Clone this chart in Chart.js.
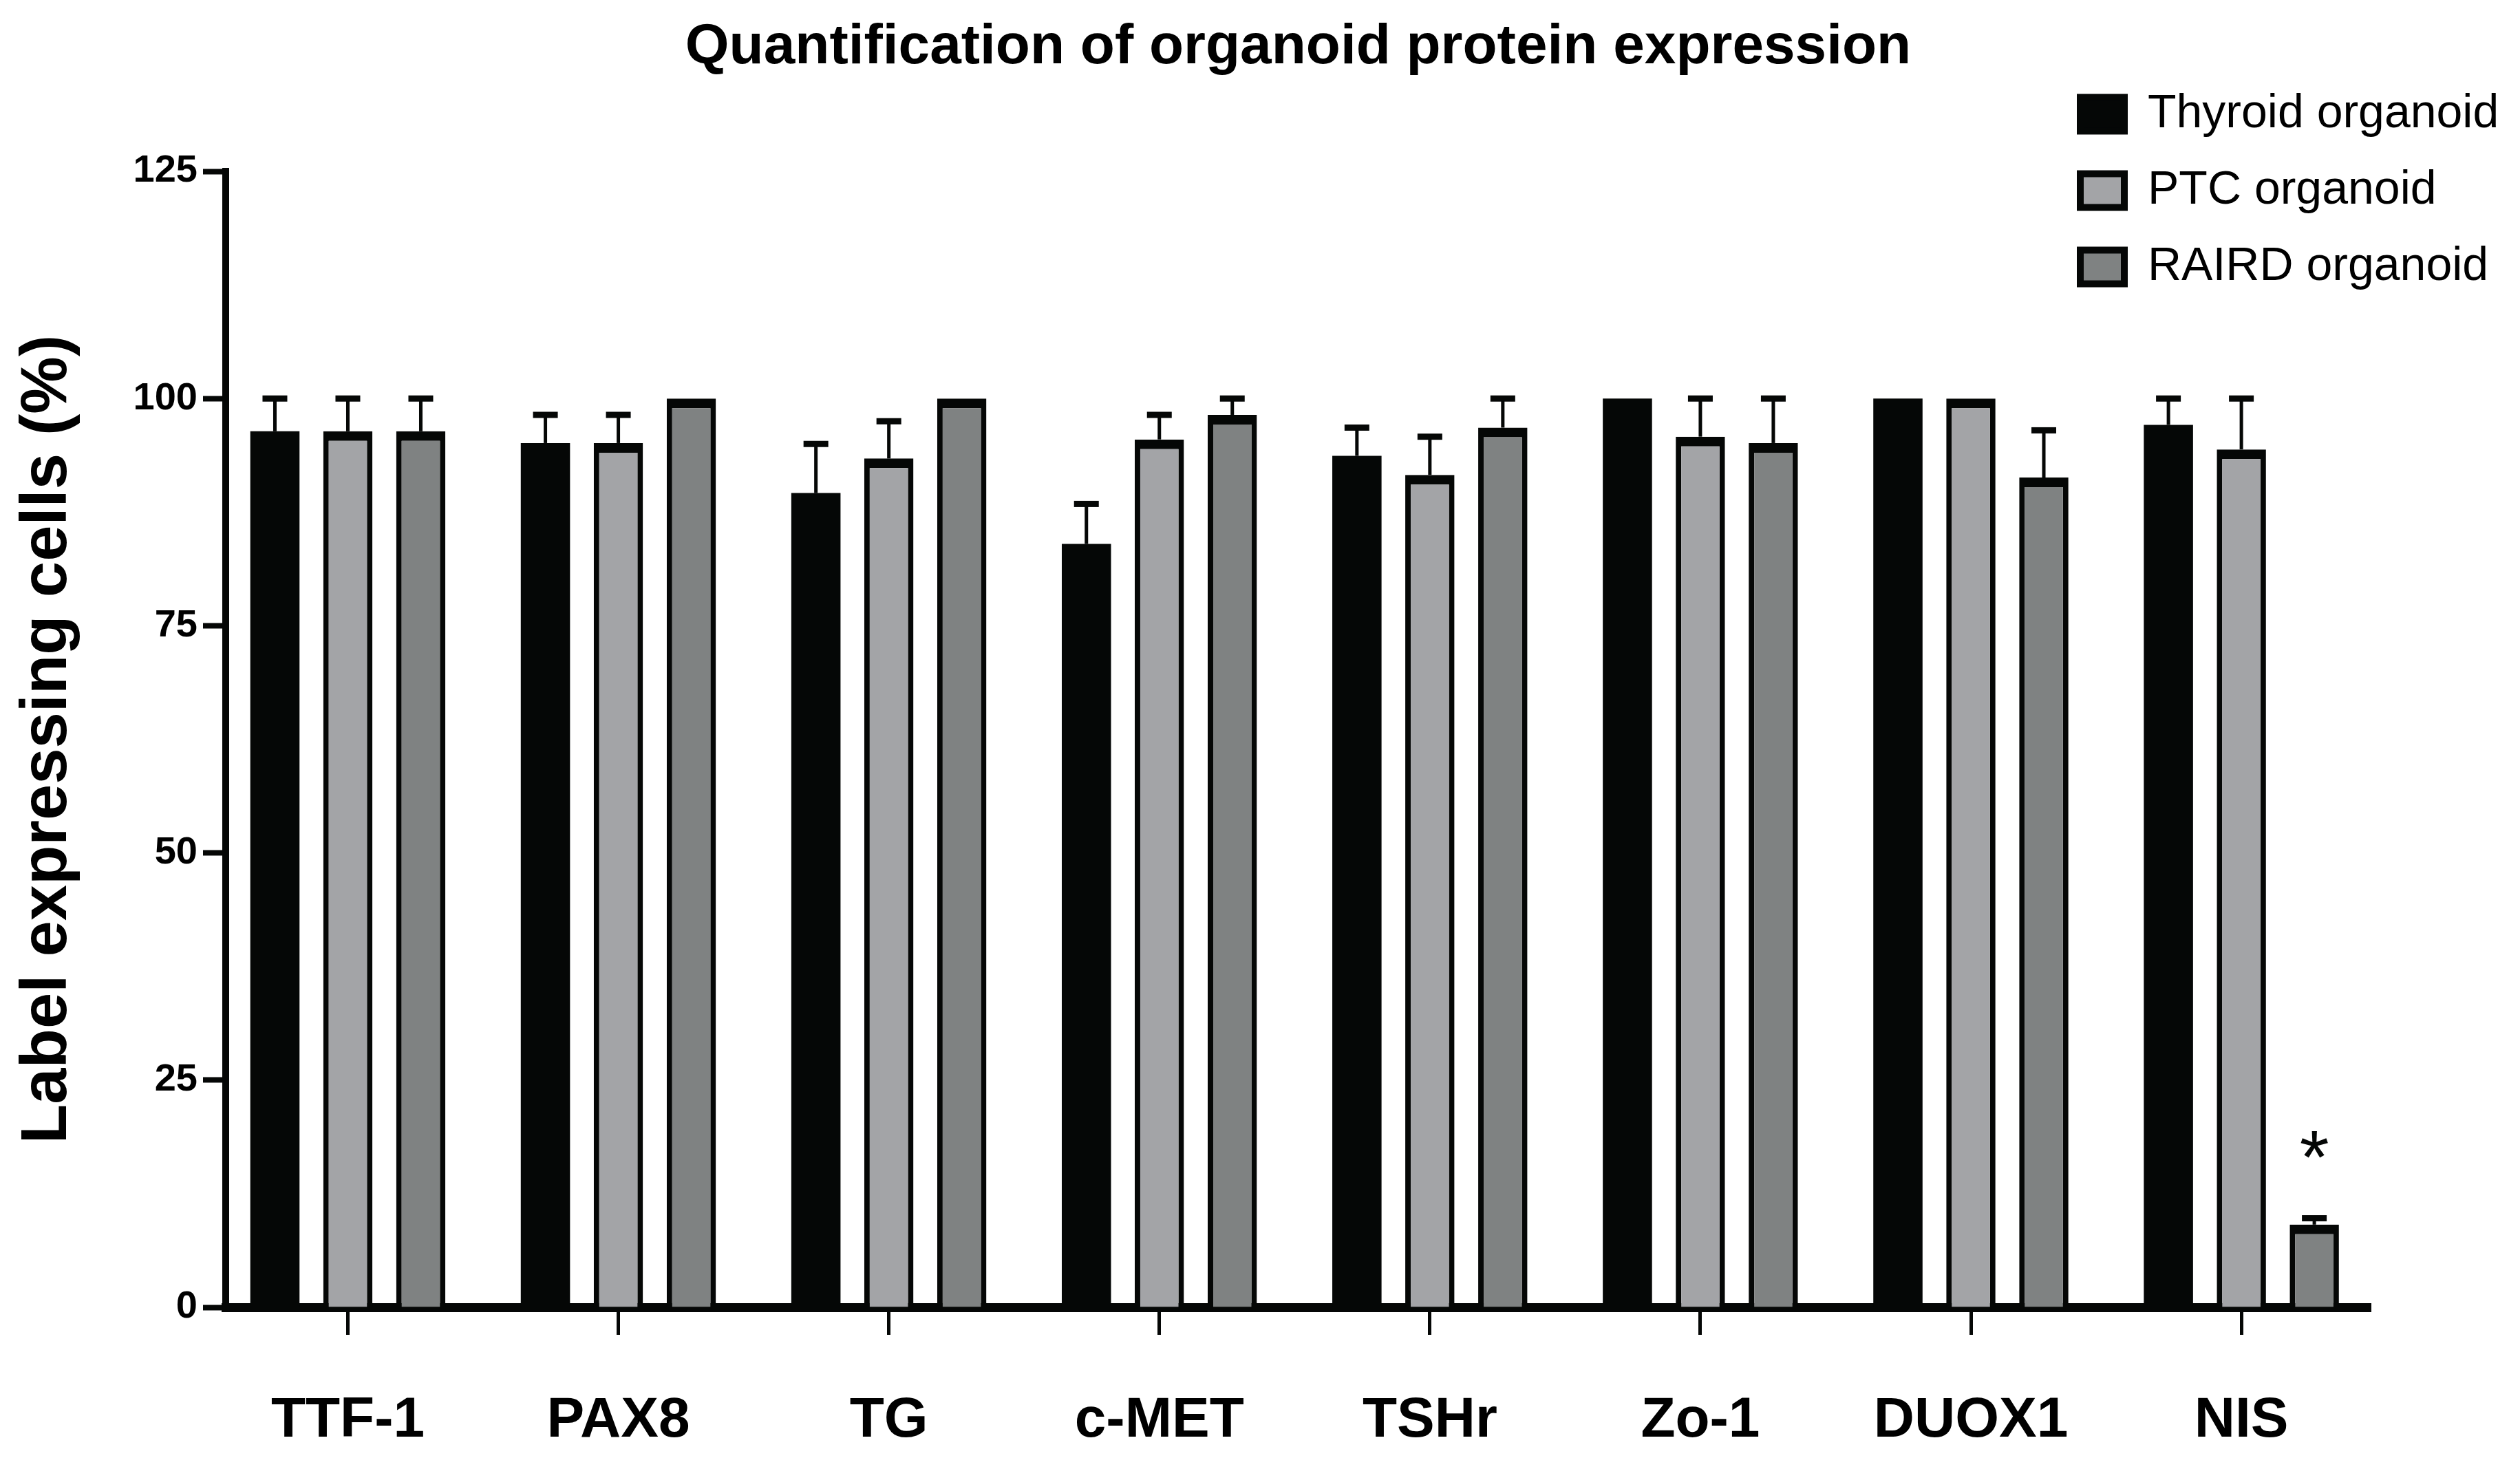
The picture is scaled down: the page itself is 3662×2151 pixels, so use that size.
<!DOCTYPE html>
<html><head><meta charset="utf-8">
<script src="https://cdn.jsdelivr.net/npm/chart.js@4.4.1/dist/chart.umd.min.js"></script>
<style>html,body{margin:0;padding:0;background:#fff;} canvas{display:block;}</style>
</head><body>
<canvas id="c" width="3662" height="2151" style="width:3662px;height:2151px"></canvas>
<script>
// ---- data ----
const categories = ['TTF-1', 'PAX8', 'TG', 'c-MET', 'TSHr', 'Zo-1', 'DUOX1', 'NIS'];
const seriesNames = ['Thyroid organoid', 'PTC organoid', 'RAIRD organoid'];
const thyroidMean = [96.4, 95.1, 89.6, 84.0, 93.7, 100, 100, 97.1];
const thyroidErr  = [3.6, 3.1, 5.4, 4.4, 3.1, 0, 0, 2.9];
const ptcMean     = [96.4, 95.1, 93.4, 95.5, 91.6, 95.8, 100, 94.4];
const ptcErr      = [3.6, 3.1, 4.1, 2.7, 4.2, 4.2, 0, 5.6];
const rairdMean   = [96.4, 100, 100, 98.2, 96.8, 95.1, 91.3, 9.1];
const rairdErr    = [3.6, 0, 0, 1.8, 3.2, 4.9, 5.2, 0.7];
const rairdMarks  = ['', '', '', '', '', '', '', '*'];
const yTicks      = [0, 25, 50, 75, 100, 125];

const SANS = '"Liberation Sans", Arial, sans-serif';
const INK = '#050706';

const toPoints = arr => arr.map((v, i) => ({ x: i, y: v }));

const errorBars = {
  id: 'errorBars',
  afterDatasetsDraw(chart) {
    const ctx = chart.ctx, ys = chart.scales.y;
    chart.data.datasets.forEach((ds, di) => {
      const meta = chart.getDatasetMeta(di);
      meta.data.forEach((el, i) => {
        const m = ds.data[i].y, e = ds.errors[i];
        const top = ys.getPixelForValue(m);
        const capY = ys.getPixelForValue(m + e);
        ctx.save();
        ctx.fillStyle = INK;
        if (e > 0) {
          ctx.fillRect(el.x - 2.5, capY, 5, top - capY);
          ctx.fillRect(el.x - 18, capY - 4.5, 36, 9);
        }
        const mark = ds.marks ? ds.marks[i] : '';
        if (mark) {
          ctx.font = '110px ' + SANS;
          ctx.textAlign = 'center';
          ctx.textBaseline = 'alphabetic';
          ctx.fillText(mark, el.x, capY - 115 + 63);
        }
        ctx.restore();
      });
    });
  }
};

const placeBlocks = {
  id: 'placeBlocks',
  afterLayout(chart) {
    const lg = chart.legend;
    if (lg) {
      const w = lg.width, h = lg.height;
      lg.left = 2980; lg.top = 89; lg.right = lg.left + w; lg.bottom = lg.top + h;
    }
    const t = chart.titleBlock;
    if (t) { t.left += 164; t.right += 164; }
  }
};

new Chart(document.getElementById('c'), {
  type: 'bar',
  data: {
    datasets: [
      { label: seriesNames[0], data: toPoints(thyroidMean), errors: thyroidErr,
        backgroundColor: INK, borderColor: INK, borderWidth: 0 },
      { label: seriesNames[1], data: toPoints(ptcMean), errors: ptcErr,
        backgroundColor: '#a3a4a7', borderColor: INK,
        borderWidth: { top: 14, left: 8, right: 8, bottom: 0 }, borderSkipped: false },
      { label: seriesNames[2], data: toPoints(rairdMean), errors: rairdErr, marks: rairdMarks,
        backgroundColor: '#7f8282', borderColor: INK,
        borderWidth: { top: 14, left: 8, right: 8, bottom: 0 }, borderSkipped: false }
    ]
  },
  options: {
    responsive: false,
    devicePixelRatio: 1,
    animation: false,
    categoryPercentage: 0.809,
    barPercentage: 0.675,
    layout: { padding: { left: 0, right: 217, top: 0, bottom: 0 } },
    scales: {
      x: {
        type: 'linear',
        offset: false,
        min: -0.4515, max: 7.478,
        z: 1,
        afterBuildTicks: s => { s.ticks = categories.map((c, i) => ({ value: i })); },
        afterFit: s => { s.height = 251; },
        ticks: {
          callback: v => categories[v] ?? '',
          autoSkip: false, maxRotation: 0, minRotation: 0,
          padding: 76, color: '#000',
          font: { family: SANS, size: 82, weight: 'bold' }
        },
        grid: { display: true, offset: false, drawOnChartArea: false, drawTicks: true, tickLength: 40, tickWidth: 5, tickColor: INK },
        border: { display: true, color: INK, width: 13 }
      },
      y: {
        min: 0, max: 125,
        z: 1,
        afterBuildTicks: s => { s.ticks = yTicks.map(v => ({ value: v })); },
        afterFit: s => { s.width = 328; },
        ticks: {
          padding: 8, color: '#000',
          font: { family: SANS, size: 56, weight: 'bold' }
        },
        grid: { display: true, drawOnChartArea: false, drawTicks: true, tickLength: 33, tickWidth: 8, tickColor: INK },
        border: { display: true, color: INK, width: 10 },
        title: {
          display: true, text: 'Label expressing cells (%)', color: '#000',
          font: { family: SANS, size: 94, weight: 'bold' },
          padding: { top: 14, bottom: 0 }
        }
      }
    },
    plugins: {
      tooltip: { enabled: false },
      title: {
        display: true, text: 'Quantification of organoid protein expression', color: '#000',
        font: { family: SANS, size: 82, weight: 'bold' },
        padding: { top: 20, bottom: 130.6 }
      },
      legend: {
        display: true, position: 'chartArea', align: 'start',
        labels: {
          boxWidth: 64, boxHeight: 49, padding: 43, color: '#000',
          font: { family: SANS, size: 68 },
          generateLabels: chart => chart.data.datasets.map((ds, i) => ({
            text: ds.label, fillStyle: ds.backgroundColor, strokeStyle: INK,
            lineWidth: 10, hidden: false, datasetIndex: i, fontColor: '#000'
          }))
        }
      }
    }
  },
  plugins: [errorBars, placeBlocks]
});
</script>
</body></html>
